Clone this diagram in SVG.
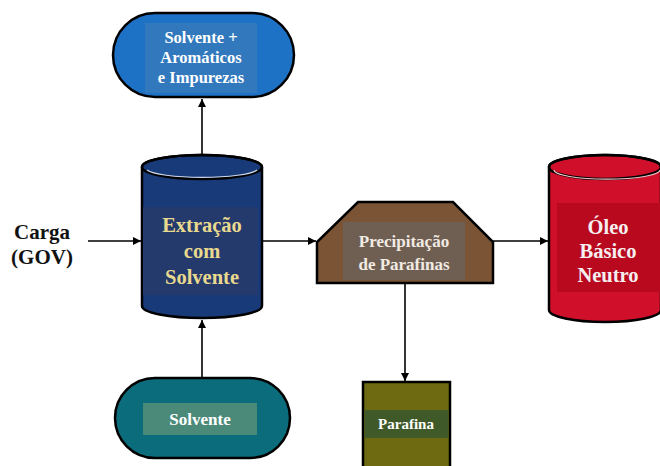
<svg xmlns="http://www.w3.org/2000/svg" width="660" height="466" viewBox="0 0 660 466">
<style>
.t{font-family:'Liberation Serif','Times New Roman','DejaVu Serif',serif;font-weight:bold;text-anchor:middle}
.sh{stroke:#000;stroke-width:2.5}
.c{stroke:#000;stroke-width:1.6;fill:none}
</style>
<defs>
<marker id="ah" viewBox="0 0 10 10" refX="10" refY="5" markerWidth="8" markerHeight="8" markerUnits="userSpaceOnUse" orient="auto">
<path d="M0,0 L10,5 L0,10 Z" fill="#000"/>
</marker>
</defs>
<rect width="660" height="466" fill="#fff"/>
<g id="connectors">
<line class="c" x1="202" y1="155" x2="202" y2="99" marker-end="url(#ah)"/>
<line class="c" x1="88" y1="241" x2="141" y2="241" marker-end="url(#ah)"/>
<line class="c" x1="262" y1="241" x2="316" y2="241" marker-end="url(#ah)"/>
<line class="c" x1="493" y1="241" x2="548" y2="241" marker-end="url(#ah)"/>
<line class="c" x1="202" y1="378" x2="202" y2="320" marker-end="url(#ah)"/>
<line class="c" x1="405" y1="284" x2="405" y2="381" marker-end="url(#ah)"/>
</g>
<g id="carga">
<text class="t" x="42" y="239" font-size="21" fill="#111">Carga</text>
<text class="t" x="42" y="264" font-size="21" fill="#111">(GOV)</text>
</g>
<g id="solvente-aromaticos">
<rect class="sh" x="113" y="13" width="181" height="84" rx="42" fill="#1e72c6"/>
<rect x="145" y="23" width="112" height="70" fill="#3278bd"/>
<text class="t" x="201" y="43" font-size="16.5" fill="#fff">Solvente +</text>
<text class="t" x="201" y="63" font-size="16.5" fill="#fff">Aromáticos</text>
<text class="t" x="201" y="83" font-size="16.5" fill="#fff">e Impurezas</text>
</g>
<g id="extracao">
<path class="sh" d="M142,167 L142,306 A60,12 0 0 0 262,306 L262,167 A60,12 0 0 0 142,167 Z" fill="#183a78"/>
<ellipse cx="202" cy="167" rx="60" ry="12" fill="none" stroke="#000" stroke-width="2.5"/>
<path d="M147,170 A56,9 0 0 0 257,170" fill="none" stroke="#cfd8ea" stroke-width="1.2"/>
<rect x="143" y="207" width="115" height="88" fill="#243a6c"/>
<text class="t" x="202" y="232" font-size="20.5" fill="#e9d98f">Extração</text>
<text class="t" x="202" y="258" font-size="20.5" fill="#e9d98f">com</text>
<text class="t" x="202" y="284" font-size="20.5" fill="#e9d98f">Solvente</text>
</g>
<g id="precipitacao">
<polygon class="sh" points="358,202 453,202 493,242 493,283 317,283 317,242" fill="#7a5434"/>
<rect x="343" y="222" width="122" height="58" fill="#6f5f53"/>
<text class="t" x="404" y="247" font-size="17" fill="#f2ebe4">Precipitação</text>
<text class="t" x="404" y="270" font-size="17" fill="#f2ebe4">de Parafinas</text>
</g>
<g id="oleo">
<path class="sh" d="M549,167 L549,310 A56,12 0 0 0 661,310 L661,167 A56,12 0 0 0 549,167 Z" fill="#d0102a"/>
<ellipse cx="605" cy="167" rx="56" ry="12" fill="none" stroke="#000" stroke-width="2.5"/>
<path d="M554,170 A52,9 0 0 0 660,170" fill="none" stroke="#f3c6cc" stroke-width="1.2"/>
<rect x="557" y="203" width="104" height="89" fill="#b8091e"/>
<text class="t" x="608" y="234" font-size="20.5" fill="#f6eef0">Óleo</text>
<text class="t" x="608" y="258" font-size="20.5" fill="#f6eef0">Básico</text>
<text class="t" x="608" y="282" font-size="20.5" fill="#f6eef0">Neutro</text>
</g>
<g id="solvente">
<rect class="sh" x="115" y="378" width="175" height="80" rx="40" fill="#0b6d7b"/>
<rect x="143" y="403" width="114" height="32" fill="#4b8a79"/>
<text class="t" x="200" y="425" font-size="17" fill="#fff">Solvente</text>
</g>
<g id="parafina">
<rect class="sh" x="363" y="382" width="87" height="90" fill="#6e6a12"/>
<rect x="364.5" y="410" width="84" height="28" fill="#3f5a28"/>
<text class="t" x="406" y="429" font-size="15" fill="#fff">Parafina</text>
</g>
</svg>
